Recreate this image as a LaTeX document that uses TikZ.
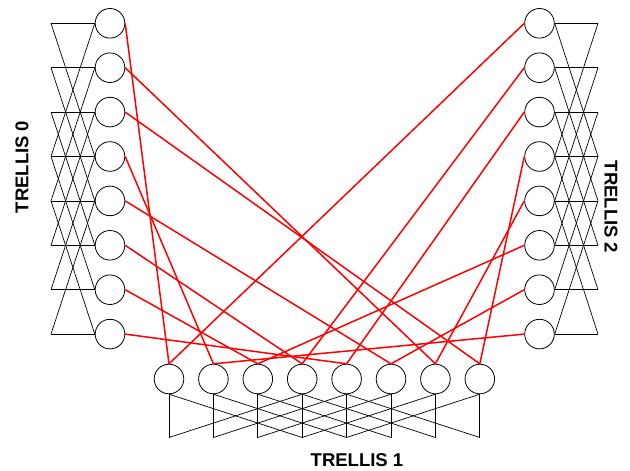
\documentclass[tikz,border=0pt]{standalone}
\usepackage{fontspec}
\setmainfont{Liberation Sans}
\begin{document}
\begin{tikzpicture}[x=1pt,y=-1pt,
  state/.style={circle,draw,minimum size=29.6pt,inner sep=0pt,line width=0.8pt},
  tl/.style={line width=0.7pt},
  rl/.style={red,line width=1.5pt},
  lbl/.style={font=\bfseries\fontsize{18.5}{18.5}\selectfont,inner sep=1pt}]
\useasboundingbox (0,0) rectangle (630,471);
\foreach \k in {0,...,7}{
  \pgfmathsetmacro\yy{23.3+44.4*\k}
  \pgfmathsetmacro\xx{169+44.4*\k}
  \node[state] (L\k) at (110,\yy) {};
  \coordinate (l\k) at (51,\yy);
  \node[state] (R\k) at (539.5,\yy) {};
  \coordinate (r\k) at (598,\yy);
  \node[state] (B\k) at (\xx,379) {};
  \coordinate (b\k) at (\xx,437.5);
}
\foreach \k in {0,...,7}{
  \draw[tl] (l\k) -- (L\k.west);
  \draw[tl] (R\k.east) -- (r\k);
  \draw[tl] (B\k.south) -- (b\k);
}
% diagonals (circle/node), pairs k <-> k+3
\foreach \a/\b in {0/3,3/0,1/4,4/1,2/5,5/2,3/6,6/3,4/7,7/4}{
  \draw[tl] (L\a.west) -- (l\b);
  \draw[tl] (R\a.east) -- (r\b);
  \draw[tl] (B\a.south) -- (b\b);
}
% red links
\foreach \a/\b in {0/0,1/6,2/7,3/1,4/5,5/3,6/2,7/4}
  \draw[rl] (L\a.east) -- (B\b.north);
\foreach \a/\b in {0/0,1/3,2/4,3/7,4/6,5/2,6/5,7/1}
  \draw[rl] (R\a.west) -- (B\b.north);
\node[lbl,rotate=90] (t0) at (22,167) {TRELLIS 0};
\node[lbl,rotate=-90] (t2) at (611,207) {TRELLIS 2};
\node[lbl] (t1) at (357,460) {TRELLIS 1};
\end{tikzpicture}
\end{document}
